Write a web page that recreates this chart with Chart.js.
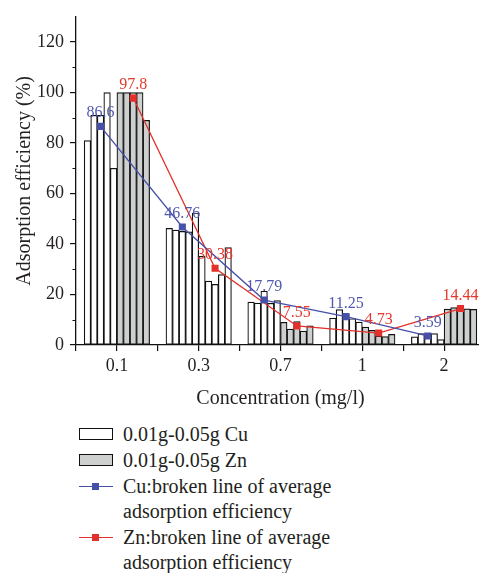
<!DOCTYPE html>
<html>
<head>
<meta charset="utf-8">
<script src="https://cdn.jsdelivr.net/npm/chart.js@4.4.0/dist/chart.umd.min.js"></script>
<style>
  html, body { margin: 0; padding: 0; background: #fff; }
  body { width: 479px; height: 573px; position: relative; overflow: hidden; }
  #wrap { position: absolute; left: 0; top: 0; width: 490px; height: 420px; }
  #legend { position: absolute; left: 79px; top: 422px; font: 20px "Liberation Serif", serif; color: #231f20; line-height: 25px; }
  .row { display: flex; align-items: flex-start; margin-bottom: 1px; }
  .sw { width: 34px; height: 25px; margin-right: 10px; position: relative; flex: none; }
  .box { position: absolute; left: 0; right: 0; top: 6px; height: 12px; border: 1.3px solid #111; box-sizing: border-box; }
  .ln { position: absolute; left: 0; right: 0; top: 12px; height: 1.4px; }
  .mk { position: absolute; left: 13px; top: 9px; width: 7px; height: 7px; }
</style>
</head>
<body>
<div id="wrap"><canvas id="chart"></canvas></div>
<div id="legend"></div>
<script>
const concentrations = ['0.1', '0.3', '0.7', '1', '2']
const masses = ['0.01g', '0.02g', '0.03g', '0.04g', '0.05g']

// one row per concentration, one value per mass (0.01g..0.05g)
const cuBars = [
  [81, 91, 91, 100, 70],
  [46.2, 45.5, 45, 44.8, 52.3],
  [17, 16.6, 21.3, 16.5, 17.55],
  [10.6, 14, 12.2, 10.4, 9.1],
  [3.2, 4.5, 3.6, 4.5, 2.15]
]
const znBars = [
  [100, 100, 100, 100, 89],
  [35.1, 25.3, 24, 27.9, 38.6],
  [9, 6.3, 9.3, 5.5, 7.6],
  [7.1, 5.8, 3.5, 3.3, 4.2],
  [14.2, 14.8, 14.8, 14.3, 14.1]
]
// the 0.3 group of Zn is drawn unfilled in the source figure
const znFilled = [true, false, true, true, true]

const cuAverage = [86.6, 46.76, 17.79, 11.25, 3.59]
const znAverage = [97.8, 30.38, 7.55, 4.73, 14.44]
const yTicks = [0, 20, 40, 60, 80, 100, 120]

const FONT = '"Liberation Serif", serif'
const CU_COLOR = '#4650a8'
const ZN_COLOR = '#e3302a'
const GRAY = '#cdd0cf'

// ten bars share 80% of each concentration slot: Cu bars left, Zn bars right
const nBars = masses.length * 2
const barStep = 0.8 / nBars
const barPos = (group, slot) => group + (slot - (nBars - 1) / 2) * barStep
// the average lines sit on the middle Cu bar and the middle Zn bar
const midSlot = (masses.length - 1) / 2

const cuPoints = []
const znPoints = []
const znFills = []
concentrations.forEach((c, i) => {
  masses.forEach((m, k) => {
    cuPoints.push({ x: barPos(i, k), y: cuBars[i][k] })
    znPoints.push({ x: barPos(i, k + masses.length), y: znBars[i][k] })
    znFills.push(znFilled[i] ? GRAY : '#fff')
  })
})

function barSet(label, points, fill) {
  return {
    label: label,
    data: points,
    backgroundColor: fill,
    borderColor: '#111',
    borderWidth: 1.2,
    borderSkipped: false,
    grouped: false,
    categoryPercentage: 1,
    barPercentage: 1,
    order: 1
  }
}

function lineSet(label, values, slot, color) {
  return {
    type: 'line',
    label: label,
    data: values.map((v, i) => ({ x: barPos(i, slot), y: v })),
    borderColor: color,
    backgroundColor: color,
    borderWidth: 1.3,
    pointStyle: 'rect',
    pointRadius: 5,
    pointBorderWidth: 0,
    tension: 0,
    cubicInterpolationMode: 'default',
    order: 0
  }
}

const datasets = [
  barSet('0.01g-0.05g Cu', cuPoints, '#fff'),
  barSet('0.01g-0.05g Zn', znPoints, znFills),
  lineSet('Cu:broken line of average adsorption efficiency', cuAverage, midSlot, CU_COLOR),
  lineSet('Zn:broken line of average adsorption efficiency', znAverage, midSlot + masses.length, ZN_COLOR)
]

// x ticks at every concentration and at every slot boundary
const xTicks = []
concentrations.forEach((c, i) => {
  xTicks.push({ value: i - 0.5 }, { value: i })
})
xTicks.push({ value: concentrations.length - 0.5 })

// short minor ticks on y
const minorTicks = {
  id: 'minorTicks',
  afterDraw(chart) {
    const ctx = chart.ctx
    const y = chart.scales.y
    ctx.save()
    ctx.strokeStyle = '#111'
    ctx.lineWidth = 1.2
    ctx.beginPath()
    for (let v = 10; v < 130; v += 20) {
      const py = Math.round(y.getPixelForValue(v)) + 0.5
      ctx.moveTo(y.right, py)
      ctx.lineTo(y.right - 3.5, py)
    }
    ctx.stroke()
    ctx.restore()
  }
}

const labelColors = { Cu: '#5058b0', Zn: '#e5392c' }

const pointLabels = {
  id: 'pointLabels',
  afterDatasetsDraw(chart) {
    const ctx = chart.ctx
    ctx.save()
    ctx.font = '16px ' + FONT
    ctx.textAlign = 'center'
    ctx.textBaseline = 'alphabetic'
    chart.data.datasets.forEach((ds, i) => {
      if (ds.type !== 'line') return
      const meta = chart.getDatasetMeta(i)
      ctx.fillStyle = labelColors[ds.label.slice(0, 2)]
      meta.data.forEach((pt, j) => {
        ctx.fillText(String(ds.data[j].y), pt.x, pt.y - 9)
      })
    })
    ctx.restore()
  }
}

new Chart(document.getElementById('chart'), {
  type: 'bar',
  data: { datasets: datasets },
  plugins: [minorTicks, pointLabels],
  options: {
    responsive: true,
    maintainAspectRatio: false,
    animation: false,
    layout: { padding: { top: 12, right: 4, left: 0, bottom: 0 } },
    plugins: { legend: { display: false }, tooltip: { enabled: false } },
    scales: {
      x: {
        type: 'linear',
        offset: false,
        min: -0.5,
        max: concentrations.length - 0.5,
        afterBuildTicks: s => { s.ticks = xTicks.map(t => ({ value: t.value })) },
        afterFit: s => { s.height = 75 },
        border: { color: '#111', width: 1.3 },
        grid: { offset: false, drawOnChartArea: false, tickLength: 6, color: '#111', lineWidth: 1.2 },
        ticks: {
          autoSkip: false,
          maxRotation: 0,
          color: '#231f20',
          font: { family: FONT, size: 18 },
          padding: 4,
          callback: v => Number.isInteger(v) ? concentrations[v] : ''
        },
        title: { display: true, text: 'Concentration (mg/l)', color: '#231f20', font: { family: FONT, size: 20 }, padding: { top: 0, bottom: 9 } }
      },
      y: {
        min: 0,
        max: 130,
        afterBuildTicks: s => { s.ticks = yTicks.map(v => ({ value: v })) },
        afterFit: s => { s.width = 76 },
        border: { color: '#111', width: 1.3 },
        grid: { drawOnChartArea: false, tickLength: 6, color: '#111', lineWidth: 1.2 },
        ticks: { color: '#231f20', font: { family: FONT, size: 18 }, padding: 6 },
        title: { display: true, text: 'Adsorption efficiency (%)', color: '#231f20', font: { family: FONT, size: 20 }, padding: { top: 13, bottom: 0 } }
      }
    }
  }
})

// legend below the plot
const legendItems = [
  { kind: 'box', fill: '#fff', lines: ['0.01g-0.05g Cu'] },
  { kind: 'box', fill: GRAY, lines: ['0.01g-0.05g Zn'] },
  { kind: 'line', color: CU_COLOR, lines: ['Cu:broken line of average', 'adsorption efficiency'] },
  { kind: 'line', color: ZN_COLOR, lines: ['Zn:broken line of average', 'adsorption efficiency'] }
]

const legend = document.getElementById('legend')
legendItems.forEach(item => {
  const row = document.createElement('div')
  row.className = 'row'
  const sw = document.createElement('div')
  sw.className = 'sw'
  if (item.kind === 'box') {
    sw.innerHTML = `<div class="box" style="background:${item.fill}"></div>`
  } else {
    sw.innerHTML = `<div class="ln" style="background:${item.color}"></div><div class="mk" style="background:${item.color}"></div>`
  }
  const txt = document.createElement('div')
  txt.innerHTML = item.lines.join('<br>')
  row.appendChild(sw)
  row.appendChild(txt)
  legend.appendChild(row)
})
</script>
</body>
</html>
